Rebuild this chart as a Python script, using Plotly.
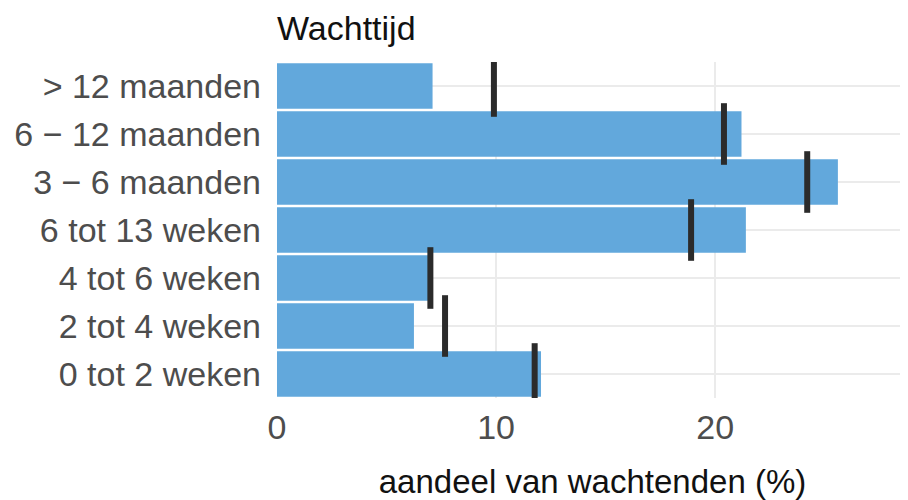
import plotly.graph_objects as go

categories = ["0 tot 2 weken", "2 tot 4 weken", "4 tot 6 weken", "6 tot 13 weken",
              "3 \u2212 6 maanden", "6 \u2212 12 maanden", "> 12 maanden"]
share = [12.05, 6.25, 6.9, 21.4, 25.6, 21.2, 7.1]
reference = [11.76, 7.67, 7.0, 18.9, 24.2, 20.4, 9.9]
x_ticks = [0, 10, 20]

fig = go.Figure()
fig.add_trace(go.Bar(
    y=categories, x=share, orientation="h",
    marker=dict(color="#62A8DC", line=dict(width=0)),
    width=0.95, showlegend=False, hoverinfo="x+y",
))
fig.add_trace(go.Scatter(
    y=categories, x=reference, mode="markers",
    marker=dict(symbol="line-ns-open", size=44, color="#2b2b2b",
                line=dict(width=6, color="#2b2b2b")),
    showlegend=False,
))

font_family = "Liberation Sans, Arial, sans-serif"
fig.update_layout(
    width=900, height=492,
    margin=dict(l=269, r=0, t=54, b=102),
    paper_bgcolor="white", plot_bgcolor="white",
    font=dict(family=font_family, size=34, color="#4d4d4d"),
    title=dict(text="Wachttijd", x=0, xref="paper", xanchor="left",
               y=1 - 20 / 492, yref="container", yanchor="middle", pad=dict(t=0, b=0),
               font=dict(size=34, color="#111111")),
    xaxis=dict(range=[0, 28.8], tickvals=x_ticks, ticktext=[str(v) for v in x_ticks],
               showgrid=True, gridcolor="#ebebeb", gridwidth=2, zeroline=False,
               showline=False, ticks="", ticklabelstandoff=6, automargin=False,
               title=dict(text="aandeel van wachtenden (%)", standoff=24,
                          font=dict(size=33, color="#111111"))),
    yaxis=dict(categoryorder="array", categoryarray=categories, range=[-0.5, 6.5],
               showgrid=True, gridcolor="#ebebeb", gridwidth=2, zeroline=False,
               showline=False, ticks="", ticklabelstandoff=15, automargin=False),
    bargap=0.05,
)
fig.write_html("out.html")
